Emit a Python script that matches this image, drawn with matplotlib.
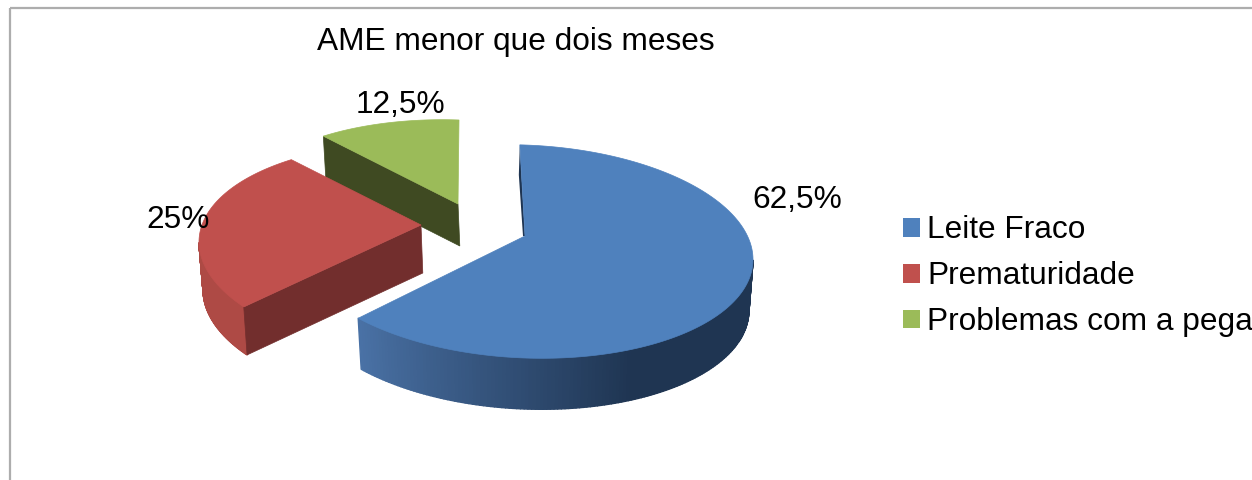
import numpy as np
import matplotlib
matplotlib.use("Agg")
import matplotlib.pyplot as plt
from matplotlib.collections import PolyCollection
from matplotlib.colors import to_rgb
from matplotlib.patches import Patch, Polygon, Rectangle

plt.rcParams['font.family'] = ['Liberation Sans', 'DejaVu Sans']

# Data
title = "AME menor que dois meses"
categories = ["Leite Fraco", "Prematuridade", "Problemas com a pega"]
values = [62.5, 25, 12.5]
value_labels = ["62,5%", "25%", "12,5%"]

# Style
top_colors = ["#4F81BD", "#C0504D", "#9BBB59"]
face_colors = ["#1F3552", "#722E2D", "#3F4A22"]
wall_from = ["#4A72A6", "#A5453F", "#3F4A22"]
wall_to = ["#1F3552", "#AE4A45", "#3F4A22"]
wall_fade = [75, 60, 60]
centers = [(525, 251.5), (427, 250), (459, 226.5)]
apexes = [(525, 236), (421, 225), (458, 204)]
warp = [4.7, 12, 12]
rot = [-1.3, 0, 0]
depths = [51, 48, 42]
label_xy = [(797, 208), (178, 228), (400, 113)]
RX, RY, TILT, INSET = 228, 106.5, 8, 0.982
FONT = 22.8

fig = plt.figure(figsize=(12.52, 4.80), dpi=100)
ax = fig.add_axes([0, 0, 1, 1])
ax.set_xlim(0, 1252)
ax.set_ylim(480, 0)
ax.axis("off")
ax.add_patch(Rectangle((9.5, 7.5), 1400, 600, fill=False, ec="#ADADAD", lw=1.6, zorder=0))


def rim(center, t_deg, inset=1.0, drop=0.0):
    t = np.radians(t_deg)
    x = center[0] + RX * inset * np.sin(t)
    y = center[1] + drop - RY * np.cos(t) + TILT * np.sin(t)
    return np.column_stack([x, y])


def warped(a, i):
    return a - warp[i] * np.sin(np.radians(a)) + rot[i]


fractions = np.cumsum([0] + values) / np.sum(values) * 360
# Painted back to front: green, red, blue
for i in [2, 1, 0]:
    z = 2 + (2 - i) * 3
    c, apex, d = centers[i], apexes[i], depths[i]
    t0, t1 = warped(fractions[i], i), warped(fractions[i + 1], i)
    ts = np.linspace(t0, t1, 240)
    top = rim(c, ts)
    bottom = rim(c, ts, INSET, d)

    # Outer wall: only the part facing the viewer (front half of the rim)
    quads, cols = [], []
    front = np.where((ts > 90) & (ts < 270))[0]
    for k in front[:-1]:
        quads.append([top[k], top[k + 1], bottom[k + 1], bottom[k]])
        f = np.clip((t1 - ts[k]) / wall_fade[i], 0, 1)
        cols.append(tuple((1 - f) * np.array(to_rgb(wall_from[i])) + f * np.array(to_rgb(wall_to[i]))))
    if quads:
        ax.add_collection(PolyCollection(quads, facecolors=cols, edgecolors=cols, linewidths=1.0, zorder=z))

    # Cut faces
    apex_b = (apex[0] + (1 - INSET) * 100, apex[1] + d)
    if i == 0:
        p = top[0]
        ax.add_patch(Polygon([p, apex, (apex[0] - 2, apex[1]), (p[0] - 1, p[1] + 30)],
                             fc=face_colors[i], ec="none", zorder=z))
    else:
        ax.add_patch(Polygon([top[0], apex, apex_b, bottom[0]], fc=face_colors[i],
                             ec=face_colors[i], lw=0.5, zorder=z))

    # Top surface
    ax.add_patch(Polygon(np.vstack([[apex], top]), fc=top_colors[i], ec=top_colors[i],
                         lw=0.5, zorder=z + 1))

for lab, xy in zip(value_labels, label_xy):
    ax.text(xy[0], xy[1], lab, fontsize=FONT, ha="center", va="baseline", color="black", zorder=30)

ax.text(515.5, 50, title, fontsize=FONT, ha="center", va="baseline", color="black", zorder=30)

handles = [Patch(fc=col, ec="none") for col in top_colors]
ax.legend(handles, categories, loc="upper left", bbox_to_anchor=(903, 215.5),
          bbox_transform=ax.transData, frameon=False, fontsize=FONT, borderpad=0,
          borderaxespad=0, handlelength=0.54, handleheight=0.54, handletextpad=0.22,
          labelspacing=0.5, labelcolor="black")

fig.savefig("out.png", dpi=100, facecolor="white")
